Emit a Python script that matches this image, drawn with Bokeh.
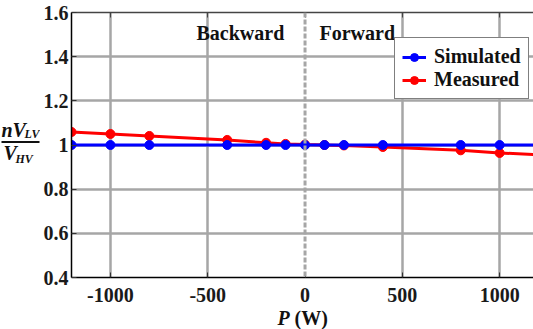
from bokeh.plotting import figure
from bokeh.models import (Range1d, FixedTicker, LinearAxis, Label, Span, Legend, LegendItem,
                          ColumnDataSource)
from bokeh.layouts import row, column
from bokeh.embed import file_html
from bokeh.resources import INLINE

# ---- data ----
power = [-1200, -1000, -800, -400, -200, -100, 0, 100, 200, 400, 800, 1000, 1200]
simulated = [1.0, 1.0, 1.0, 1.0, 1.0, 1.0, 1.0, 1.0, 1.0, 1.0, 1.0, 1.0, 1.0]
measured = [1.059, 1.050, 1.041, 1.023, 1.010, 1.005, 1.002, 1.000, 0.998, 0.991, 0.976, 0.964, 0.956]
x_ticks = [-1000, -500, 0, 500, 1000]
x_tick_labels = ["-1000", "-500", "0", "500", "1000"]
y_ticks = [0.4, 0.6, 0.8, 1.0, 1.2, 1.4, 1.6]
y_tick_labels = ["0.4", "0.6", "0.8", "1", "1.2", "1.4", "1.6"]

SERIF = "Liberation Serif"
GRID = "#a6a6a6"
INK = "#111111"
HEIGHT = 310

src = ColumnDataSource(dict(p=power, sim=simulated, meas=measured))

# ---------------- main plot ----------------
p = figure(width=493, height=HEIGHT, output_backend="svg", toolbar_location=None,
           x_range=Range1d(-1200, 1174), y_range=Range1d(0.4, 1.6),
           min_border_left=30, min_border_right=0, min_border_top=12, min_border_bottom=33)
p.frame_align = False
p.outline_line_color = None
p.background_fill_color = "white"
p.border_fill_color = "white"

p.xaxis.ticker = FixedTicker(ticks=x_ticks)
p.xaxis.major_label_overrides = {t: l for t, l in zip(x_ticks, x_tick_labels)}
p.yaxis.ticker = FixedTicker(ticks=y_ticks)
p.yaxis.major_label_overrides = {t: l for t, l in zip(y_ticks, y_tick_labels)}
for ax in (p.xaxis[0], p.yaxis[0]):
    ax.axis_line_color = "black"
    ax.axis_line_width = 1.5
    ax.major_tick_out = 0
    ax.major_tick_in = 5
    ax.major_tick_line_color = "#333333"
    ax.minor_tick_line_color = None
    ax.major_label_text_font = SERIF
    ax.major_label_text_font_style = "bold"
    ax.major_label_text_font_size = "20px"
    ax.major_label_text_color = "#1a1a1a"
p.xaxis.major_label_standoff = 10
p.yaxis.major_label_standoff = 3
p.yaxis.major_label_text_baseline = "top"

top_axis = LinearAxis(ticker=FixedTicker(ticks=x_ticks), major_label_text_font_size="0px",
                      major_label_standoff=0, major_tick_out=0, major_tick_in=5,
                      minor_tick_line_color=None, axis_line_color="#444444",
                      major_tick_line_color="#444444", axis_line_width=1.5)
p.add_layout(top_axis, "above")

p.xgrid.ticker = FixedTicker(ticks=[t for t in x_ticks if t != 0])
p.ygrid.ticker = FixedTicker(ticks=y_ticks)
for g in (p.xgrid[0], p.ygrid[0]):
    g.grid_line_color = GRID
    g.grid_line_width = 2.5

zero_line = Span(location=0, dimension="height", line_color=GRID, line_width=3,
                 line_dash="5 2")

r_line = p.line("p", "meas", source=src, line_color="#ff0000", line_width=3)
r_pts = p.scatter("p", "meas", source=src, size=9, fill_color="#ff0000", line_color="#ff0000")
b_line = p.line("p", "sim", source=src, line_color="#0000ff", line_width=3)
b_pts = p.scatter("p", "sim", source=src, size=9, fill_color="#0000ff", line_color="#0000ff")
p.add_layout(zero_line)

legend = Legend(items=[LegendItem(label="Simulated", renderers=[b_line, b_pts]),
                       LegendItem(label="Measured", renderers=[r_line, r_pts])],
                location=(323, 178), orientation="vertical",
                label_text_font=SERIF, label_text_font_style="bold",
                label_text_font_size="20px", label_text_color=INK,
                label_height=20, glyph_height=20, glyph_width=24, label_standoff=8,
                padding=7, spacing=0, margin=0,
                border_line_color="black", border_line_width=1,
                background_fill_color="white", background_fill_alpha=1)
p.add_layout(legend, "center")

for txt, sx in (("Backward", 125), ("Forward", 248)):
    p.add_layout(Label(x=sx, y=277 - 32.5, x_units="screen", y_units="screen", text=txt,
                       text_font=SERIF, text_font_style="bold", text_font_size="20px",
                       text_color=INK, text_baseline="alphabetic"))

def put(fig, txt, x, y, size, style):
    fig.add_layout(Label(x=x, y=y, text=txt, text_font=SERIF, text_font_style=style,
                         text_font_size=size, text_color=INK, text_baseline="alphabetic"))

# ---------------- y-axis label panel (data y == page pixel row) ----------------
ylab = figure(width=40, height=HEIGHT, output_backend="svg", toolbar_location=None,
              x_range=Range1d(0, 40), y_range=Range1d(HEIGHT, 0),
              min_border=0, x_axis_type=None, y_axis_type=None)
ylab.frame_align = False
ylab.outline_line_color = None
ylab.grid.visible = False

put(ylab, "nV", 1, 129.5, "20px", "bold italic")
put(ylab, "LV", 24, 133.5, "12px", "bold italic")
put(ylab, "V", 3, 152, "20px", "bold italic")
put(ylab, "HV", 15, 158.5, "12px", "bold italic")
ylab.segment(x0=[1], y0=[141.5], x1=[39], y1=[141.5], line_color=INK, line_width=1.8)

# ---------------- x-axis label panel ----------------
xlab = figure(width=533, height=329 - HEIGHT, output_backend="svg", toolbar_location=None,
              x_range=Range1d(0, 533), y_range=Range1d(329 - HEIGHT, 0),
              min_border=0, x_axis_type=None, y_axis_type=None)
xlab.frame_align = False
xlab.outline_line_color = None
xlab.grid.visible = False
put(xlab, "P", 277, 7.5, "20px", "bold italic")
put(xlab, "(W)", 294, 7.5, "20px", "bold")

layout = column(row(ylab, p, spacing=0), xlab, spacing=0)

open("out.html", "w").write(file_html(layout, INLINE))
